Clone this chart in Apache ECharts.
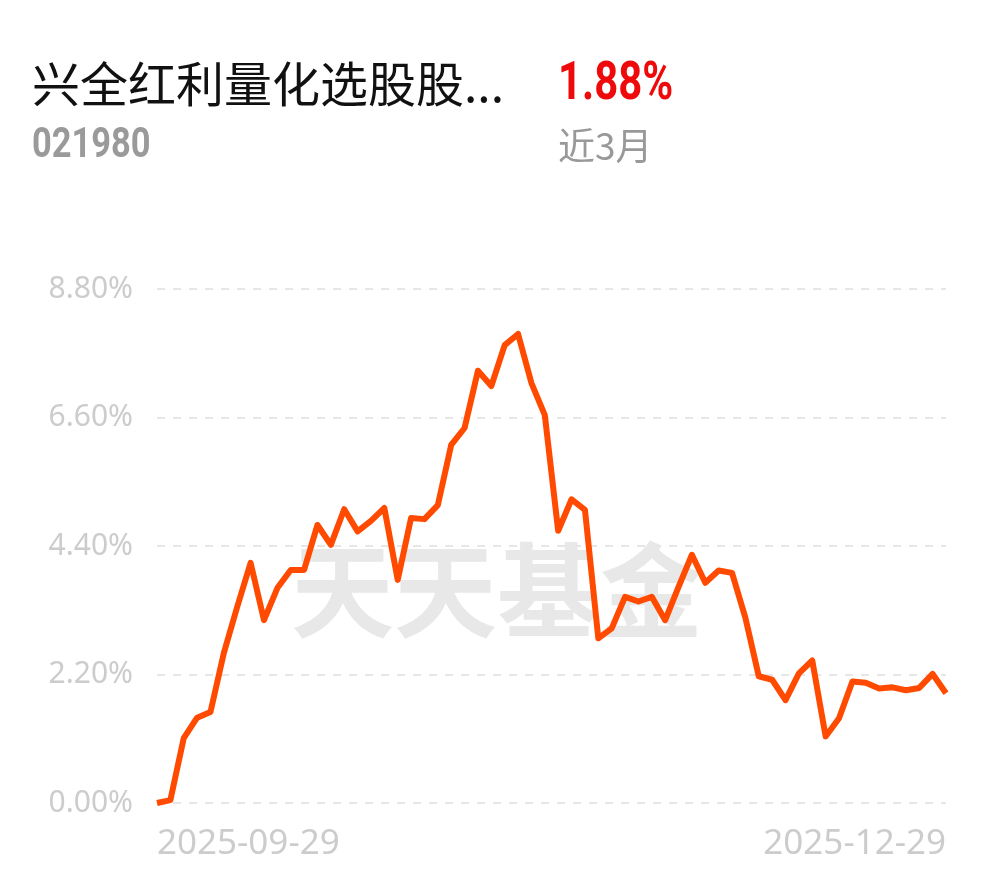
<!DOCTYPE html>
<html>
<head>
<meta charset="utf-8">
<script src="https://cdn.jsdelivr.net/npm/echarts@6/dist/echarts.min.js"></script>
<style>
html,body{margin:0;padding:0;background:#fff;}
#chart{width:990px;height:878px;}
</style>
</head>
<body>
<div id="chart"></div>
<script>
const fundName = '兴全红利量化选股股...';
const fundCode = '021980';
const periodReturn = '1.88%';
const periodLabel = '近3月';
const watermark = '天天基金';

const dates = [
  '2025-09-29','2025-09-30',
  '2025-10-09','2025-10-10','2025-10-13','2025-10-14','2025-10-15','2025-10-16','2025-10-17',
  '2025-10-20','2025-10-21','2025-10-22','2025-10-23','2025-10-24',
  '2025-10-27','2025-10-28','2025-10-29','2025-10-30','2025-10-31',
  '2025-11-03','2025-11-04','2025-11-05','2025-11-06','2025-11-07',
  '2025-11-10','2025-11-11','2025-11-12','2025-11-13','2025-11-14',
  '2025-11-17','2025-11-18','2025-11-19','2025-11-20','2025-11-21',
  '2025-11-24','2025-11-25','2025-11-26','2025-11-27','2025-11-28',
  '2025-12-01','2025-12-02','2025-12-03','2025-12-04','2025-12-05',
  '2025-12-08','2025-12-09','2025-12-10','2025-12-11','2025-12-12',
  '2025-12-15','2025-12-16','2025-12-17','2025-12-18','2025-12-19',
  '2025-12-22','2025-12-23','2025-12-24','2025-12-25','2025-12-26',
  '2025-12-29'
];

const returns = [
  0, 0.05, 1.11, 1.46, 1.56, 2.57, 3.36, 4.11, 3.13, 3.68,
  3.99, 3.99, 4.76, 4.42, 5.03, 4.65, 4.83, 5.05, 3.82, 4.88,
  4.86, 5.10, 6.13, 6.42, 7.40, 7.14, 7.84, 8.03, 7.19, 6.64,
  4.66, 5.20, 5.02, 2.82, 2.99, 3.53, 3.45, 3.53, 3.13, 3.70,
  4.25, 3.77, 3.98, 3.94, 3.17, 2.17, 2.11, 1.76, 2.22, 2.44,
  1.14, 1.45, 2.08, 2.06, 1.96, 1.98, 1.93, 1.97, 2.21, 1.88
];

const yMin = 0, yMax = 8.8, yStep = 2.2;

const chart = echarts.init(document.getElementById('chart'), null, {renderer: 'canvas'});
const cjk = '"Noto Sans CJK SC", "Noto Sans", sans-serif';
const num = 'Roboto, "Noto Sans", sans-serif';

chart.setOption({
  backgroundColor: '#fff',
  animation: false,
  grid: {left: 157, right: 44, top: 289, bottom: 75, containLabel: false},
  graphic: [
    {type: 'text', x: 32, y: 84, z: 10,
      style: {text: fundName, font: '48px ' + cjk, fill: '#111', verticalAlign: 'middle'}},
    {type: 'text', x: 558, y: 86, z: 10, scaleX: 0.79,
      style: {text: periodReturn, font: 'bold 53px ' + num, fill: '#ee0a0a', verticalAlign: 'middle'}},
    {type: 'text', x: 32, y: 146, z: 10, scaleX: 0.82,
      style: {text: fundCode, font: 'bold 42px ' + num, fill: '#9a9a9a', verticalAlign: 'middle'}},
    {type: 'text', x: 558, y: 146, z: 10,
      style: {text: periodLabel, font: '37px ' + cjk, fill: '#999', verticalAlign: 'middle'}},
    {type: 'text', x: 497, y: 591, z: -10,
      style: {text: watermark, font: 'bold 103px ' + cjk, fill: '#e8e8e8', align: 'center', verticalAlign: 'middle'}}
  ],
  xAxis: {
    type: 'category',
    data: dates,
    boundaryGap: false,
    axisLine: {show: false},
    axisTick: {show: false},
    splitLine: {show: false},
    axisLabel: {
      interval: function (idx) { return idx === 0 || idx === dates.length - 1; },
      showMinLabel: true,
      showMaxLabel: true,
      alignMinLabel: 'left',
      alignMaxLabel: 'right',
      color: '#cccccc',
      fontSize: 35,
      fontFamily: '"Noto Sans", sans-serif',
      margin: 24
    }
  },
  yAxis: {
    type: 'value',
    min: yMin,
    max: yMax,
    interval: yStep,
    axisLine: {show: false},
    axisTick: {show: false},
    axisLabel: {
      formatter: function (v) { return v.toFixed(2) + '%'; },
      color: '#cccccc',
      fontSize: 30,
      fontFamily: '"Noto Sans", sans-serif',
      margin: 24
    },
    splitLine: {lineStyle: {color: '#e6e6e6', width: 2, type: [8, 8]}}
  },
  series: [{
    type: 'line',
    data: returns,
    showSymbol: false,
    symbol: 'none',
    z: 5,
    lineStyle: {color: '#ff4a00', width: 6, join: 'round'}
  }]
});
</script>
</body>
</html>
